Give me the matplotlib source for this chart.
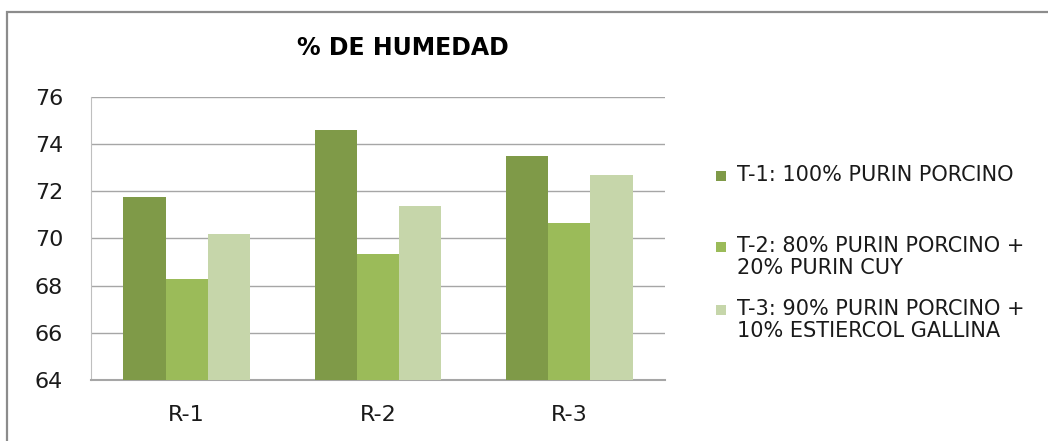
import matplotlib
matplotlib.use("Agg")
import matplotlib.pyplot as plt
from matplotlib.patches import Rectangle
import numpy as np

plt.rcParams['font.family'] = ['DejaVu Sans']

categories = ["R-1", "R-2", "R-3"]
series_names = [
    "T-1: 100% PURIN PORCINO",
    "T-2: 80% PURIN PORCINO +\n20% PURIN CUY",
    "T-3: 90% PURIN PORCINO +\n10% ESTIERCOL GALLINA",
]
t1_values = [71.74, 74.59, 73.48]
t2_values = [68.27, 69.34, 70.67]
t3_values = [70.19, 71.36, 72.67]
colors = ["#7F9A48", "#9BBB59", "#C6D6AA"]
yticks = [64, 66, 68, 70, 72, 74, 76]

W, H = 1048, 441
fig = plt.figure(figsize=(W / 100, H / 100), dpi=100)
fig.patch.set_facecolor("white")

# outer chart frame
fig.add_artist(Rectangle((7 / W, -0.1), 1.2, (H - 12) / H + 0.1,
                         transform=fig.transFigure, fill=False,
                         edgecolor="#8C8C8C", linewidth=1.6))

ax = fig.add_axes([91 / W, (H - 380) / H, (665 - 91) / W, (380 - 96.7) / H])
x = np.arange(len(categories))
bw = 0.221
for i, vals in enumerate([t1_values, t2_values, t3_values]):
    ax.bar(x + (i - 1) * bw, np.array(vals) - 64, bw, bottom=64,
           color=colors[i], linewidth=0, zorder=3)

ax.set_xlim(-0.5, 2.5)
ax.set_ylim(64, 76)
ax.set_yticks(yticks)
ax.set_xticks(x)
ax.set_xticklabels(categories)
ax.tick_params(axis="both", length=0, labelsize=16, colors="#1A1A1A")
ax.tick_params(axis="y", pad=20)
ax.tick_params(axis="x", pad=18)
ax.grid(axis="y", color="#A6A6A6", linewidth=1.0, zorder=0)
for s in ["top", "right"]:
    ax.spines[s].set_visible(False)
ax.spines["left"].set_color("#BFBFBF")
ax.spines["left"].set_linewidth(0.8)
ax.spines["bottom"].set_color("#A6A6A6")
ax.spines["bottom"].set_linewidth(1.5)

fig.text(403 / W, (H - 48) / H, "% DE HUMEDAD", ha="center", va="center",
         fontsize=17, fontweight="bold", color="#000000")

# legend (square aligned with first text line)
first_line_y = [176, 247, 310]
for name, c, yc in zip(series_names, colors, first_line_y):
    fig.add_artist(Rectangle((716 / W, (H - yc - 5) / H), 10 / W, 10 / H,
                             transform=fig.transFigure, facecolor=c,
                             edgecolor="none"))
    fig.text(737 / W, (H - yc + 11) / H, name, ha="left", va="top",
             fontsize=15, color="#1A1A1A", linespacing=1.15)

fig.savefig("out.png", dpi=100)
